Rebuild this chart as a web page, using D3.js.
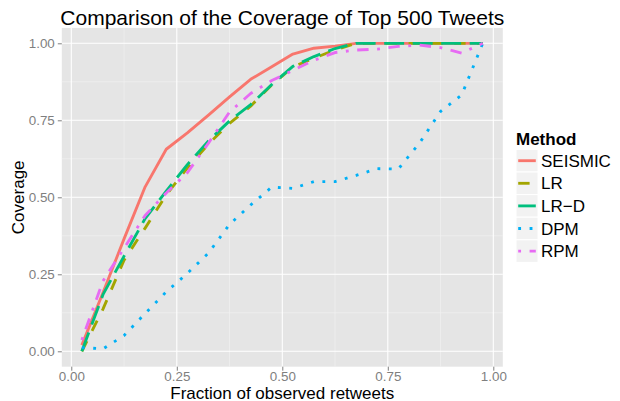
<!DOCTYPE html>
<html>
<head>
<meta charset="utf-8">
<script src="https://cdn.jsdelivr.net/npm/d3@7"></script>
<style>
  body { margin: 0; background: #fff; }
  svg { display: block; font-family: "Liberation Sans", Arial, sans-serif; }
</style>
</head>
<body>
<svg id="chart" width="620" height="401"></svg>
<script>
// ---- data ----
const fractions = [0.025,0.075,0.125,0.175,0.225,0.275,0.325,0.375,0.425,0.475,0.525,0.575,0.625,0.675,0.725,0.775,0.825,0.875,0.925,0.975];
const methods = ["SEISMIC","LR","LR\u2212D","DPM","RPM"];
const seismic = [0.02,0.19,0.365,0.534,0.656,0.709,0.767,0.826,0.883,0.924,0.965,0.984,0.991,1,1,1,1,1,1,1];
const lr      = [0.0,0.137,0.296,0.40,0.508,0.595,0.673,0.740,0.796,0.865,0.923,0.952,0.978,1,1,1,1,1,1,1];
const lrd     = [0.0,0.184,0.309,0.431,0.520,0.606,0.683,0.748,0.801,0.866,0.925,0.957,0.983,1,1,1,1,1,1,1];
const dpm     = [0.012,0.008,0.051,0.123,0.193,0.253,0.319,0.412,0.475,0.533,0.529,0.551,0.551,0.571,0.593,0.592,0.676,0.779,0.832,1.0];
const rpm     = [0.037,0.228,0.335,0.441,0.514,0.580,0.676,0.777,0.837,0.879,0.912,0.945,0.970,0.978,0.981,0.990,0.994,0.986,0.968,1.0];
const seriesValues = [seismic, lr, lrd, dpm, rpm];
const xTicks = [0, 0.25, 0.5, 0.75, 1];
const yTicks = [0, 0.25, 0.5, 0.75, 1];
const xMinor = [0.125, 0.375, 0.625, 0.875];
const yMinor = [0.125, 0.375, 0.625, 0.875];
const title = "Comparison of the Coverage of Top 500 Tweets";
const xTitle = "Fraction of observed retweets";
const yTitle = "Coverage";
const legendTitle = "Method";

// ---- styles ----
const colors = ["#F8766D","#A3A500","#00BF7D","#00B0F6","#E76BF3"];
const L = 2.85;
const dashes = [null, [4*L,4*L], [7*L,3*L], [1*L,3*L], [1*L,3*L,4*L,3*L]].map(d => d ? d.join(",") : null);

const svg = d3.select("#chart");
const panel = {x0: 61.8, x1: 502.8, y0: 27.9, y1: 366.7};
const x = d3.scaleLinear().domain([-0.0225, 1.0225]).range([panel.x0, panel.x1]);
const y = d3.scaleLinear().domain([-0.05, 1.05]).range([panel.y1, panel.y0]);

// panel
svg.append("rect").attr("x", panel.x0).attr("y", panel.y0)
  .attr("width", panel.x1 - panel.x0).attr("height", panel.y1 - panel.y0)
  .attr("fill", "#E5E5E5");

const grid = svg.append("g");
grid.selectAll(".xminor").data(xMinor).enter().append("line")
  .attr("x1", d => x(d)).attr("x2", d => x(d)).attr("y1", panel.y0).attr("y2", panel.y1)
  .attr("stroke", "#F2F2F2").attr("stroke-width", 0.6);
grid.selectAll(".yminor").data(yMinor).enter().append("line")
  .attr("y1", d => y(d)).attr("y2", d => y(d)).attr("x1", panel.x0).attr("x2", panel.x1)
  .attr("stroke", "#F2F2F2").attr("stroke-width", 0.6);
grid.selectAll(".xmajor").data(xTicks).enter().append("line")
  .attr("x1", d => x(d)).attr("x2", d => x(d)).attr("y1", panel.y0).attr("y2", panel.y1)
  .attr("stroke", "#FFFFFF").attr("stroke-width", 1.1);
grid.selectAll(".ymajor").data(yTicks).enter().append("line")
  .attr("y1", d => y(d)).attr("y2", d => y(d)).attr("x1", panel.x0).attr("x2", panel.x1)
  .attr("stroke", "#FFFFFF").attr("stroke-width", 1.1);

// axes
const xAxis = d3.axisBottom(x).tickValues(xTicks).tickFormat(d3.format(".2f")).tickSize(4).tickPadding(2);
const yAxis = d3.axisLeft(y).tickValues(yTicks).tickFormat(d3.format(".2f")).tickSize(4).tickPadding(3);
const gx = svg.append("g").attr("transform", `translate(0,${panel.y1})`).call(xAxis);
const gy = svg.append("g").attr("transform", `translate(${panel.x0},0)`).call(yAxis);
[gx, gy].forEach(g => {
  g.select(".domain").remove();
  g.selectAll(".tick line").attr("stroke", "#7F7F7F").attr("stroke-width", 1);
  g.selectAll(".tick text").attr("fill", "#7F7F7F").attr("font-size", "13.4px")
    .attr("font-family", "Liberation Sans, Arial, sans-serif");
});
gx.selectAll(".tick text").attr("dy", "0.62em");

// lines
const line = d3.line().x((d, i) => x(fractions[i])).y(d => y(d));
seriesValues.forEach((vals, k) => {
  const p = svg.append("path").datum(vals).attr("d", line)
    .attr("fill", "none").attr("stroke", colors[k]).attr("stroke-width", L)
    .attr("stroke-linecap", "butt").attr("stroke-linejoin", "round");
  if (dashes[k]) p.attr("stroke-dasharray", dashes[k]);
});

// title
svg.append("text").attr("x", (panel.x0 + panel.x1) / 2).attr("y", 25)
  .attr("text-anchor", "middle").attr("font-size", "21px").attr("fill", "#000").text(title);
// axis titles
svg.append("text").attr("x", (panel.x0 + panel.x1) / 2).attr("y", 398.5)
  .attr("text-anchor", "middle").attr("font-size", "17px").attr("fill", "#000").text(xTitle);
svg.append("text").attr("transform", `translate(24,${(panel.y0 + panel.y1) / 2}) rotate(-90)`)
  .attr("text-anchor", "middle").attr("font-size", "17px").attr("fill", "#000").text(yTitle);

// legend
const lg = svg.append("g");
lg.append("text").attr("x", 516).attr("y", 145).attr("font-size", "17px")
  .attr("font-weight", "bold").attr("fill", "#000").text(legendTitle);
const keyTop = 149.4, keyH = 22.6, keyX = 516, keyW = 22;
methods.forEach((m, k) => {
  const top = keyTop + k * keyH;
  lg.append("rect").attr("x", keyX).attr("y", top).attr("width", keyW).attr("height", keyH)
    .attr("fill", "#F2F2F2").attr("stroke", "#FFFFFF").attr("stroke-width", 1);
  const ln = lg.append("line").attr("x1", keyX + 0.1 * keyW).attr("x2", keyX + 0.9 * keyW)
    .attr("y1", top + keyH / 2).attr("y2", top + keyH / 2)
    .attr("stroke", colors[k]).attr("stroke-width", L).attr("stroke-linecap", "butt");
  if (dashes[k]) ln.attr("stroke-dasharray", dashes[k]);
  lg.append("text").attr("x", 541).attr("y", top + keyH / 2 + 6).attr("font-size", "17px")
    .attr("fill", "#000").text(m);
});
</script>
</body>
</html>
